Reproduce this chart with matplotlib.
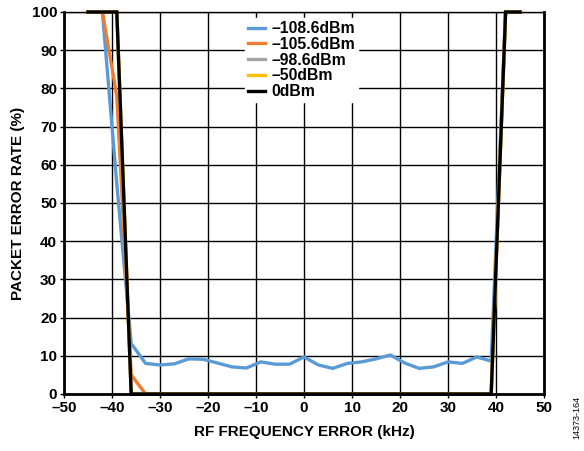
import matplotlib.pyplot as plt

plt.rcParams['font.family'] = ['Liberation Sans', 'DejaVu Sans']
plt.rcParams['font.weight'] = 'bold'

# frequency error (kHz), 3 kHz steps
freq = [-45, -42, -39, -36, -33, -30, -27, -24, -21, -18, -15, -12, -9, -6, -3,
        0, 3, 6, 9, 12, 15, 18, 21, 24, 27, 30, 33, 36, 39, 42, 45]

per_m108_6 = [100, 100, 55, 13.2, 8.0, 7.6, 7.9, 9.2, 9.1, 8.1, 7.1, 6.8, 8.4, 7.8, 7.8,
              9.7, 7.6, 6.7, 8.0, 8.4, 9.2, 10.2, 8.1, 6.7, 7.1, 8.4, 8.0, 9.7, 8.6, 100, 100]
per_m105_6 = [100, 100, 78, 5, 0, 0, 0, 0, 0, 0, 0, 0, 0, 0, 0,
              0, 0, 0, 0, 0, 0, 0, 0, 0, 0, 0, 0, 0, 0, 100, 100]
per_m98_6 = [100, 100, 100, 0, 0, 0, 0, 0, 0, 0, 0, 0, 0, 0, 0,
             0, 0, 0, 0, 0, 0, 0, 0, 0, 0, 0, 0, 0, 0, 100, 100]
per_m50 = [100, 100, 100, 0, 0, 0, 0, 0, 0, 0, 0, 0, 0, 0, 0,
           0, 0, 0, 0, 0, 0, 0, 0, 0, 0, 0, 0, 0, 0, 100, 100]
per_0 = [100, 100, 100, 0, 0, 0, 0, 0, 0, 0, 0, 0, 0, 0, 0,
         0, 0, 0, 0, 0, 0, 0, 0, 0, 0, 0, 0, 0, 0, 100, 100]

series = [
    (per_m108_6, "\u2013108.6dBm", "#5B9BD5"),
    (per_m105_6, "\u2013105.6dBm", "#ED7D31"),
    (per_m98_6, "\u201398.6dBm", "#A5A5A5"),
    (per_m50, "\u201350dBm", "#FFC000"),
    (per_0, "0dBm", "black"),
]

xticks = list(range(-50, 51, 10))
yticks = list(range(0, 101, 10))

fig = plt.figure(figsize=(5.84, 4.51), dpi=100)
ax = fig.add_axes([0.1096, 0.1264, 0.8219, 0.847])

for vals, lab, col in series:
    ax.plot(freq, vals, color=col, lw=2.4, label=lab, solid_joinstyle='miter', clip_on=False)

ax.set_xlim(-50, 50)
ax.set_ylim(0, 100)
ax.set_xticks(xticks)
ax.set_yticks(yticks)
ax.set_xticklabels([str(t).replace('-', '\u2013') for t in xticks], fontsize=11, fontweight='bold')
ax.set_yticklabels([str(t) for t in yticks], fontsize=11, fontweight='bold')
ax.tick_params(length=3, width=1, direction='out', pad=2)
ax.grid(True, color='black', lw=1)
ax.set_axisbelow(True)
for s in ['left', 'bottom', 'right']:
    ax.spines[s].set_linewidth(2)
ax.spines['top'].set_linewidth(1)

ax.set_xlabel("RF FREQUENCY ERROR (kHz)", fontsize=11, fontweight='bold', labelpad=7)
ax.set_ylabel("PACKET ERROR RATE (%)", fontsize=11, fontweight='bold', labelpad=5)

leg = ax.legend(loc='upper left', bbox_to_anchor=(0.36, 1.005), frameon=True, fancybox=False,
                framealpha=1, edgecolor='white', fontsize=11.3, handlelength=1.1,
                handletextpad=0.4, labelspacing=0.05, borderpad=0.2)
for t in leg.get_texts():
    t.set_fontweight('bold')

fig.text(0.988, 0.075, "14373-164", rotation=90, fontsize=6.5, fontweight='normal',
         ha='center', va='center')

plt.savefig("out.png", dpi=100)
